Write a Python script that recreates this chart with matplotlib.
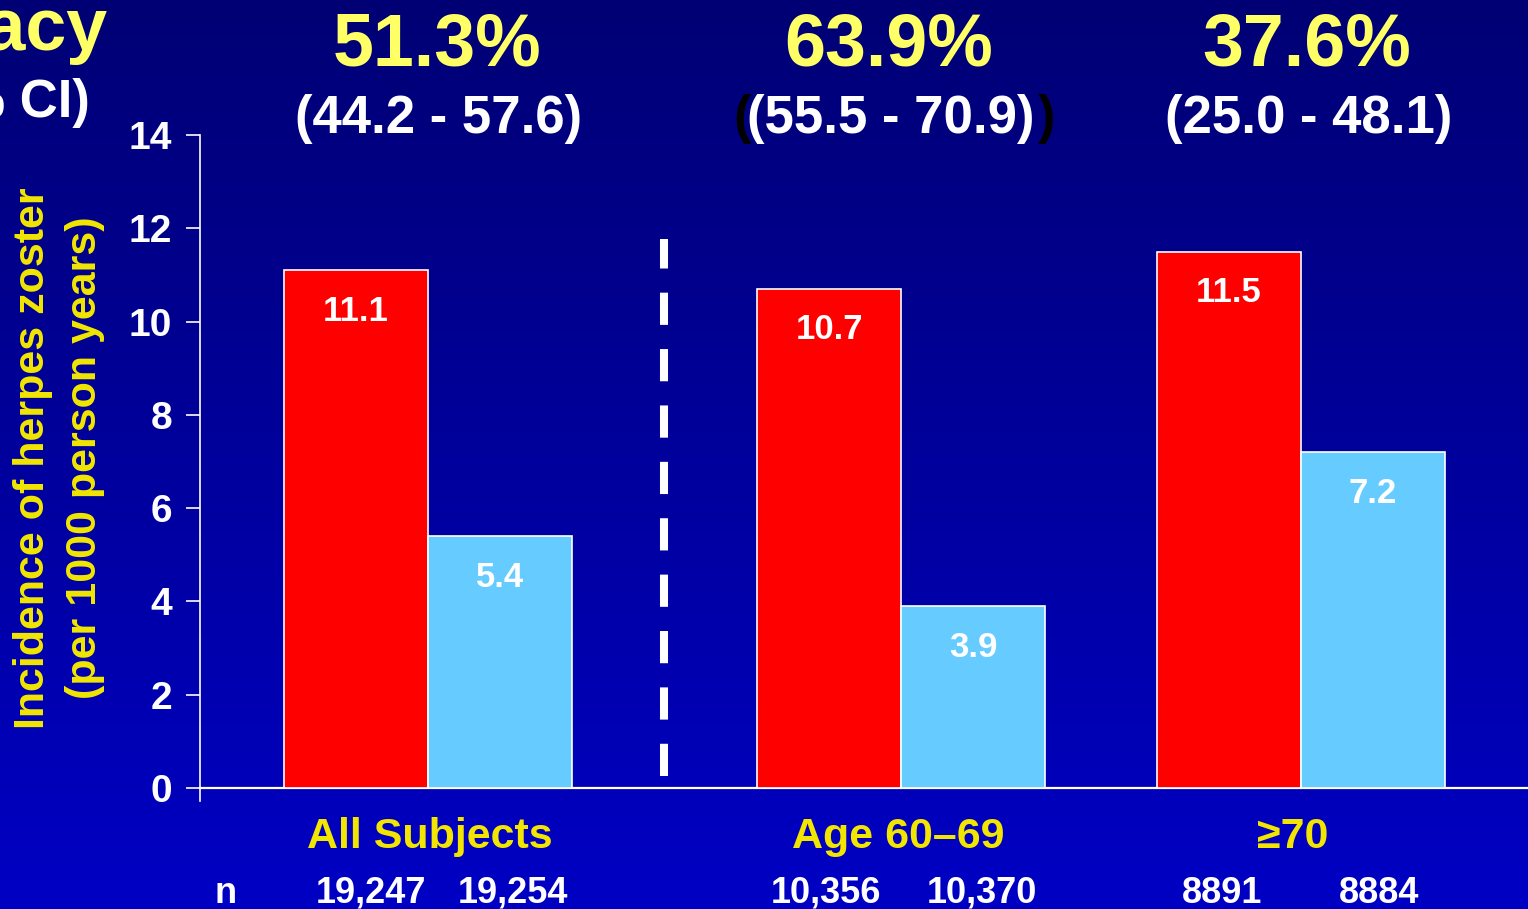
import numpy as np
import matplotlib
matplotlib.use("Agg")
import matplotlib.pyplot as plt

# ---- data ----
groups = ["All Subjects", "Age 60\u201369", "\u226570"]
placebo = [11.1, 10.7, 11.5]
vaccine = [5.4, 3.9, 7.2]
efficacy = ["51.3%", "63.9%", "37.6%"]
ci = ["(44.2 - 57.6)", "(55.5 - 70.9)", "(25.0 - 48.1)"]
n_placebo = ["19,247", "10,356", "8891"]
n_vaccine = ["19,254", "10,370", "8884"]
yticks = [0, 2, 4, 6, 8, 10, 12, 14]

W, H = 1528, 909
FONT = "Liberation Sans"
YELLOW = "#FFFF66"
LABEL_YELLOW = "#F2E600"
RED = "#FF0000"
LIGHT_BLUE = "#66CCFF"

plt.rcParams["font.family"] = [FONT, "DejaVu Sans"]
plt.rcParams["font.weight"] = "bold"

fig = plt.figure(figsize=(W / 100, H / 100), dpi=100)

# background gradient, navy at top to royal blue at bottom
bg = fig.add_axes([0, 0, 1, 1], zorder=-10)
grad = np.linspace(0, 1, 256)[:, None]
top = np.array([0x00, 0x00, 0x74]) / 255
bot = np.array([0x00, 0x00, 0xC4]) / 255
img = top[None, None, :] * (1 - grad[:, :, None]) + bot[None, None, :] * grad[:, :, None]
bg.imshow(img, aspect="auto", extent=[0, 1, 0, 1], origin="upper")
bg.set_axis_off()


def px(x, y):
    """Convert pixel position (origin top-left) to figure fraction."""
    return x / W, 1 - y / H


# ---- plotting area ----
ax_left, ax_right, ax_top, ax_bottom = 200, 1528, 135, 788
ax = fig.add_axes([ax_left / W, 1 - ax_bottom / H, (ax_right - ax_left) / W,
                   (ax_bottom - ax_top) / H])
ax.set_facecolor("none")
ax.set_xlim(0, ax_right - ax_left)
ax.set_ylim(0, 14)

centers = np.array([228, 701, 1101])
bw = 144
ax.bar(centers - bw / 2, placebo, width=bw, color=RED, edgecolor="white", linewidth=1.2, zorder=3)
ax.bar(centers + bw / 2, vaccine, width=bw, color=LIGHT_BLUE, edgecolor="white", linewidth=1.2, zorder=3)

for c, p, v in zip(centers, placebo, vaccine):
    ax.text(c - bw / 2, p - 0.88, f"{p:.1f}", ha="center", va="center",
            color="white", fontsize=25, fontweight="bold", zorder=4)
    ax.text(c + bw / 2, v - 0.88, f"{v:.1f}", ha="center", va="center",
            color="white", fontsize=25, fontweight="bold", zorder=4)

# dashed separator
ax.plot([464, 464], [0.26, 11.77], color="white", linewidth=5.8,
        linestyle=(0, (4, 3)), solid_capstyle="butt", dash_capstyle="butt", zorder=2)

# axes styling
for s in ["top", "right", "left"]:
    ax.spines[s].set_visible(False)
ax.spines["bottom"].set_color("white")
ax.spines["bottom"].set_linewidth(1.6)
ax.plot([0, 0], [-0.28, 14], color="white", linewidth=1.2, clip_on=False, zorder=5)
ax.set_xticks([])
ax.set_yticks(yticks)
ax.set_yticklabels([str(t) for t in yticks])
ax.tick_params(axis="y", colors="white", length=10, width=1.2, pad=10,
               labelsize=28)
for lab in ax.get_yticklabels():
    lab.set_fontweight("bold")

# y-axis title
fig.text(*px(33, 458), "Incidence of herpes zoster", rotation=90, ha="center", va="center",
         color=LABEL_YELLOW, fontsize=31, fontweight="bold")
fig.text(*px(85, 458), "(per 1000 person years)", rotation=90, ha="center", va="center",
         color=LABEL_YELLOW, fontsize=31, fontweight="bold")

# efficacy headers
header_x = [437, 889, 1307]
for hx, e, c in zip(header_x, efficacy, ci):
    fig.text(*px(hx, 66), e, ha="center", va="baseline", color=YELLOW,
             fontsize=53, fontweight="bold")
    fig.text(*px(hx + 2, 133), c, ha="center", va="baseline", color="white",
             fontsize=38, fontweight="bold", zorder=3)
# dark bracket shadows around the middle interval
fig.text(*px(733, 133), "(", ha="left", va="baseline", color="black",
         fontsize=38, fontweight="bold", zorder=2)
fig.text(*px(1056, 133), ")", ha="right", va="baseline", color="black",
         fontsize=38, fontweight="bold", zorder=2)

fig.text(*px(107, 50), "Efficacy", ha="right", va="baseline", color=YELLOW,
         fontsize=53, fontweight="bold")
fig.text(*px(90, 117), "(95% CI)", ha="right", va="baseline", color="white",
         fontsize=38, fontweight="bold")

# group labels
group_x = [430, 898, 1293]
for gx, g in zip(group_x, groups):
    fig.text(*px(gx, 848), g, ha="center", va="baseline", color=LABEL_YELLOW,
             fontsize=31, fontweight="bold")

# sample sizes
n_x_placebo = [371, 826, 1222]
n_x_vaccine = [513, 982, 1379]
fig.text(*px(226, 903), "n", ha="center", va="baseline", color="white",
         fontsize=26, fontweight="bold")
for xa, xb, a, b in zip(n_x_placebo, n_x_vaccine, n_placebo, n_vaccine):
    fig.text(*px(xa, 903), a, ha="center", va="baseline", color="white",
             fontsize=26, fontweight="bold")
    fig.text(*px(xb, 903), b, ha="center", va="baseline", color="white",
             fontsize=26, fontweight="bold")

fig.savefig("out.png", dpi=100)
